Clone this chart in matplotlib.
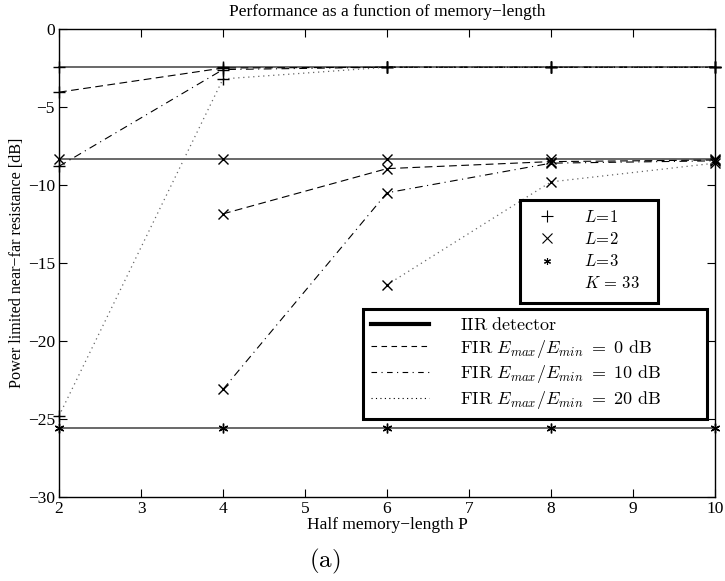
import numpy as np
import matplotlib
matplotlib.use("Agg")
import matplotlib.pyplot as plt
from matplotlib.lines import Line2D

plt.rcParams['font.family'] = ['Liberation Serif', 'DejaVu Serif']
plt.rcParams['mathtext.fontset'] = 'cm'

# Half memory-length
P = [2, 4, 6, 8, 10]

# IIR detector (independent of P), per number of users L
iir_L1 = -2.45
iir_L2 = -8.35
iir_L3 = -25.6

# FIR detector, L = 1
fir0_L1 = [-4.05, -2.5, -2.45, -2.45, -2.45]
fir10_L1 = [-8.8, -2.6, -2.45, -2.45, -2.45]
fir20_L1 = [-24.8, -3.2, -2.45, -2.45, -2.45]

# FIR detector, L = 2 (nan: not available)
fir0_L2 = [np.nan, -11.85, -8.95, -8.5, -8.4]
fir10_L2 = [np.nan, -23.1, -10.5, -8.6, -8.45]
fir20_L2 = [np.nan, np.nan, -16.4, -9.8, -8.6]

xticks = [2, 3, 4, 5, 6, 7, 8, 9, 10]
yticks = [0, -5, -10, -15, -20, -25, -30]

W, H = 725, 581
fig = plt.figure(figsize=(W / 100, H / 100), dpi=100)
ax = fig.add_axes([59 / W, 1 - 497 / H, 656 / W, 468 / H])

ASTERISK = (6, 2, 0)
dash = (0, (7, 4))
dashdot = (0, (7, 4, 1, 4))
dot = (0, (1, 3))

kw = dict(clip_on=False, markeredgewidth=1.0)

# IIR reference lines
for val, mk, ms in [(iir_L1, '+', 8), (iir_L2, 'x', 6.5), (iir_L3, ASTERISK, 7)]:
    ax.plot(P, [val] * len(P), color='0.25', lw=1.1, marker=mk, ms=ms,
            mec='black', mfc='black', **kw)

# FIR curves
for ys, mk, ms in [(fir0_L1, '+', 8), (fir0_L2, 'x', 6.5)]:
    ax.plot(P, ys, color='black', lw=0.8, ls=dash, marker=mk, ms=ms, **kw)
for ys, mk, ms in [(fir10_L1, '+', 8), (fir10_L2, 'x', 6.5)]:
    ax.plot(P, ys, color='black', lw=0.8, ls=dashdot, marker=mk, ms=ms, **kw)
for ys, mk, ms in [(fir20_L1, '+', 8), (fir20_L2, 'x', 6.5)]:
    ax.plot(P, ys, color='0.4', lw=0.9, ls=dot, marker=mk, ms=ms,
            mec='black', **kw)

ax.set_xlim(2, 10)
ax.set_ylim(-30, 0)
ax.set_xticks(xticks)
ax.set_yticks(yticks)
ax.set_yticklabels(['0', '\u22125', '\u221210', '\u221215', '\u221220',
                    '\u221225', '\u221230'])
ax.tick_params(direction='in', length=6, width=0.8, top=True, right=True,
               labelsize=12.5, pad=3)
for s in ax.spines.values():
    s.set_linewidth(1.0)

ax.set_title('Performance as a function of memory\u2212length', fontsize=12.5, pad=9)
ax.set_xlabel('Half memory\u2212length P', fontsize=12.5, labelpad=0)
ax.set_ylabel('Power limited near\u2212far resistance [dB]', fontsize=11.6, labelpad=2)

# Marker legend
h1 = [Line2D([], [], ls='none', marker='+', ms=9, color='black', mew=0.8),
      Line2D([], [], ls='none', marker='x', ms=6.5, color='black', mew=0.8),
      Line2D([], [], ls='none', marker=ASTERISK, ms=5, color='black', mew=0.8),
      Line2D([], [], ls='none')]
l1 = [r'$L\!=\!1$', r'$L\!=\!2$', r'$L\!=\!3$', r'$K\,=\,33$']
leg1 = fig.legend(h1, l1, loc='upper left',
                  bbox_to_anchor=(520 / W, 1 - 303 / H, 138 / W, 103 / H),
                  mode='expand', fontsize=12, frameon=True, fancybox=False,
                  framealpha=1, edgecolor='black', handlelength=2.0,
                  handletextpad=1.2, labelspacing=0.36, borderpad=0.62,
                  borderaxespad=0)
leg1.get_frame().set_linewidth(2.2)

# Line-style legend
h2 = [Line2D([], [], color='black', lw=3),
      Line2D([], [], color='black', lw=0.8, ls=(0, (5, 4))),
      Line2D([], [], color='black', lw=0.8, ls=(0, (5, 4, 1, 4))),
      Line2D([], [], color='black', lw=0.8, ls=(0, (1, 3)))]
l2 = [r'$\mathrm{IIR\ detector}$',
      r'$\mathrm{FIR}\ E_{max}/E_{min}\ =\ 0\ \mathrm{dB}$',
      r'$\mathrm{FIR}\ E_{max}/E_{min}\ =\ 10\ \mathrm{dB}$',
      r'$\mathrm{FIR}\ E_{max}/E_{min}\ =\ 20\ \mathrm{dB}$']
leg2 = fig.legend(h2, l2, loc='upper left',
                  bbox_to_anchor=(363 / W, 1 - 413 / H, 344 / W, 104 / H),
                  mode='expand', fontsize=13, frameon=True, fancybox=False,
                  framealpha=1, edgecolor='black', handlelength=3.2,
                  handletextpad=1.7, labelspacing=0.2, borderpad=0.45,
                  borderaxespad=0)
leg2.get_frame().set_linewidth(2.2)

fig.text(325 / W, 1 - 561 / H, r'$\mathrm{(a)}$', fontsize=18,
         ha='center', va='center')

fig.savefig('out.png', dpi=100)
